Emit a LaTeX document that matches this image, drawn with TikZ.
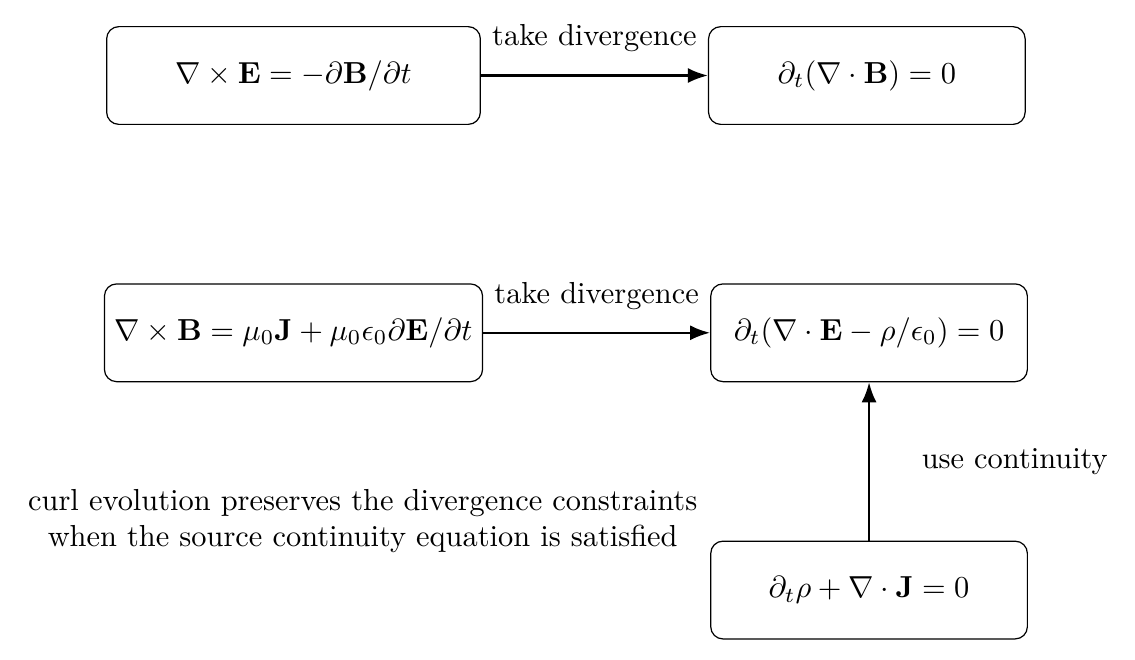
\documentclass[tikz,border=0pt]{standalone}
\usetikzlibrary{positioning,arrows.meta}
\tikzset{eqbox/.style={draw,rounded corners,minimum height=1.13cm}}
\begin{document}
\begin{tikzpicture}[node distance=1.83cm and 2.624cm]
      \useasboundingbox (-3.393,-6.746) rectangle (9.728,0.873);
      \node[eqbox,minimum width=4.32cm] (curlE)
        {$\nabla\times\mathbf{E}=-\partial\mathbf{B}/\partial t$};
      \node[eqbox,minimum width=3.66cm,right=of curlE] (divB)
        {$\partial_t(\nabla\cdot\mathbf{B})=0$};
      \node[eqbox,below=of curlE] (curlB)
        {$\nabla\times\mathbf{B}=\mu_0\mathbf{J}+\mu_0\epsilon_0\partial\mathbf{E}/\partial t$};
      \node[eqbox,minimum width=3.66cm,right=of curlB] (divE)
        {$\partial_t(\nabla\cdot\mathbf{E}-\rho/\epsilon_0)=0$};
      \node[eqbox,minimum width=3.66cm,below=of divE] (cont)
        {$\partial_t\rho+\nabla\cdot\mathbf{J}=0$};
      \node[align=center] (note) at (0.80,-5.15)
        {curl evolution preserves the divergence constraints\\
         when the source continuity equation is satisfied};
      \begin{scope}[thick,-Latex]
        \draw (curlE) to node[above=4pt] {take divergence} (divB);
        \draw (curlB) to node[above=4pt] {take divergence} (divE);
        \draw (cont) to node[right=13.6pt] {use continuity} (divE);
      \end{scope}
    \end{tikzpicture}
\end{document}
